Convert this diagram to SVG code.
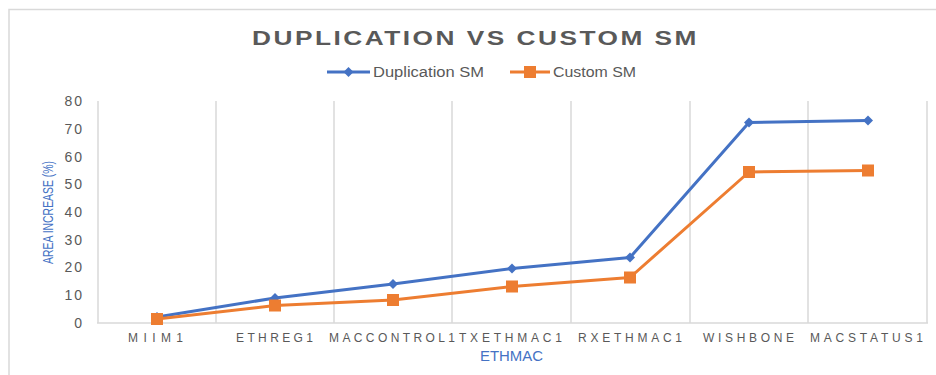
<svg xmlns="http://www.w3.org/2000/svg" width="936" height="375" viewBox="0 0 936 375">
<defs>
<style>
.grid{stroke:#d9d9d9;stroke-width:1.5;fill:none}
.ytick{font-family:"Liberation Sans",Arial,sans-serif;font-size:14px;fill:#595959;text-anchor:end;letter-spacing:2px}
.xcat{font-family:"Liberation Sans",Arial,sans-serif;font-size:12px;fill:#595959}
.blue{stroke:#4472C4;stroke-width:3;fill:none;stroke-linejoin:round}
.orange{stroke:#ED7D31;stroke-width:3;fill:none;stroke-linejoin:round}
.title{font-family:"Liberation Sans",Arial,sans-serif;font-size:21px;font-weight:bold;fill:#595959;letter-spacing:2px}
.legend{font-family:"Liberation Sans",Arial,sans-serif;font-size:14px;fill:#595959}
.axtitle{font-family:"Liberation Sans",Arial,sans-serif;font-size:14px;fill:#4472C4}
.ytitle{font-family:"Liberation Sans",Arial,sans-serif;font-size:15.5px;fill:#4472C4}
</style>
<path id="dia" d="M0,-5 L5,0 L0,5 L-5,0 Z" fill="#4472C4"/>
<rect id="sq" x="-6" y="-6" width="12" height="12" fill="#ED7D31"/>
</defs>
<rect x="0" y="0" width="936" height="375" fill="#ffffff"/>
<rect x="9" y="9.5" width="940" height="380" fill="none" stroke="#d9d9d9" stroke-width="1.5"/>
<g id="title"><text class="title" x="252" y="45" textLength="447" lengthAdjust="spacingAndGlyphs">DUPLICATION  VS CUSTOM  SM</text></g>
<g id="legend">
<line x1="327" y1="72" x2="370" y2="72" class="blue"/>
<use href="#dia" x="348.5" y="72"/>
<text class="legend" x="373" y="77" textLength="111" lengthAdjust="spacingAndGlyphs">Duplication SM</text>
<line x1="510" y1="72" x2="550" y2="72" class="orange"/>
<use href="#sq" x="530" y="72"/>
<text class="legend" x="553" y="77" textLength="83" lengthAdjust="spacingAndGlyphs">Custom SM</text>
</g>
<g id="gridlines">
<line class="grid" x1="98" y1="101" x2="98" y2="323"/>
<line class="grid" x1="216" y1="101" x2="216" y2="323"/>
<line class="grid" x1="334" y1="101" x2="334" y2="323"/>
<line class="grid" x1="452" y1="101" x2="452" y2="323"/>
<line class="grid" x1="571" y1="101" x2="571" y2="323"/>
<line class="grid" x1="690" y1="101" x2="690" y2="323"/>
<line class="grid" x1="808" y1="101" x2="808" y2="323"/>
<line class="grid" x1="927" y1="101" x2="927" y2="323"/>
<line class="grid" x1="97" y1="323" x2="928" y2="323"/>
</g>
<g id="y-axis">
<text class="ytick" x="84" y="327.7">0</text>
<text class="ytick" x="84" y="300">10</text>
<text class="ytick" x="84" y="272.3">20</text>
<text class="ytick" x="84" y="244.6">30</text>
<text class="ytick" x="84" y="216.9">40</text>
<text class="ytick" x="84" y="189.2">50</text>
<text class="ytick" x="84" y="161.5">60</text>
<text class="ytick" x="84" y="133.8">70</text>
<text class="ytick" x="84" y="106.1">80</text>
<text class="ytitle" transform="translate(53,264) rotate(-90)" x="0" y="0" textLength="103" lengthAdjust="spacingAndGlyphs">AREA INCREASE (%)</text>
</g>
<g id="x-axis">
<text class="xcat" x="128" y="342" textLength="55" lengthAdjust="spacing">MIIM1</text>
<text class="xcat" x="236" y="342" textLength="77" lengthAdjust="spacing">ETHREG1</text>
<text class="xcat" x="329" y="342" textLength="126" lengthAdjust="spacing">MACCONTROL1</text>
<text class="xcat" x="459" y="342" textLength="103" lengthAdjust="spacing">TXETHMAC1</text>
<text class="xcat" x="578" y="342" textLength="104" lengthAdjust="spacing">RXETHMAC1</text>
<text class="xcat" x="703" y="342" textLength="91" lengthAdjust="spacing">WISHBONE</text>
<text class="xcat" x="810" y="342" textLength="113" lengthAdjust="spacing">MACSTATUS1</text>
<text class="axtitle" x="480" y="361" textLength="63" lengthAdjust="spacingAndGlyphs">ETHMAC</text>
</g>
<g id="connectors">
<polyline id="series-duplication" class="blue" points="157,317 275,298 393,284 512,268.5 630,257.5 749,122.5 868,120.5"/>
<polyline id="series-custom" class="orange" points="157,319 275,305.5 393,300 512,286.5 630,277.5 749,172 868,170.5"/>
</g>
<g id="markers-duplication">
<use href="#dia" x="157" y="317"/>
<use href="#dia" x="275" y="298"/>
<use href="#dia" x="393" y="284"/>
<use href="#dia" x="512" y="268.5"/>
<use href="#dia" x="630" y="257.5"/>
<use href="#dia" x="749" y="122.5"/>
<use href="#dia" x="868" y="120.5"/>
</g>
<g id="markers-custom">
<use href="#sq" x="157" y="319"/>
<use href="#sq" x="275" y="305.5"/>
<use href="#sq" x="393" y="300"/>
<use href="#sq" x="512" y="286.5"/>
<use href="#sq" x="630" y="277.5"/>
<use href="#sq" x="749" y="172"/>
<use href="#sq" x="868" y="170.5"/>
</g>
</svg>
